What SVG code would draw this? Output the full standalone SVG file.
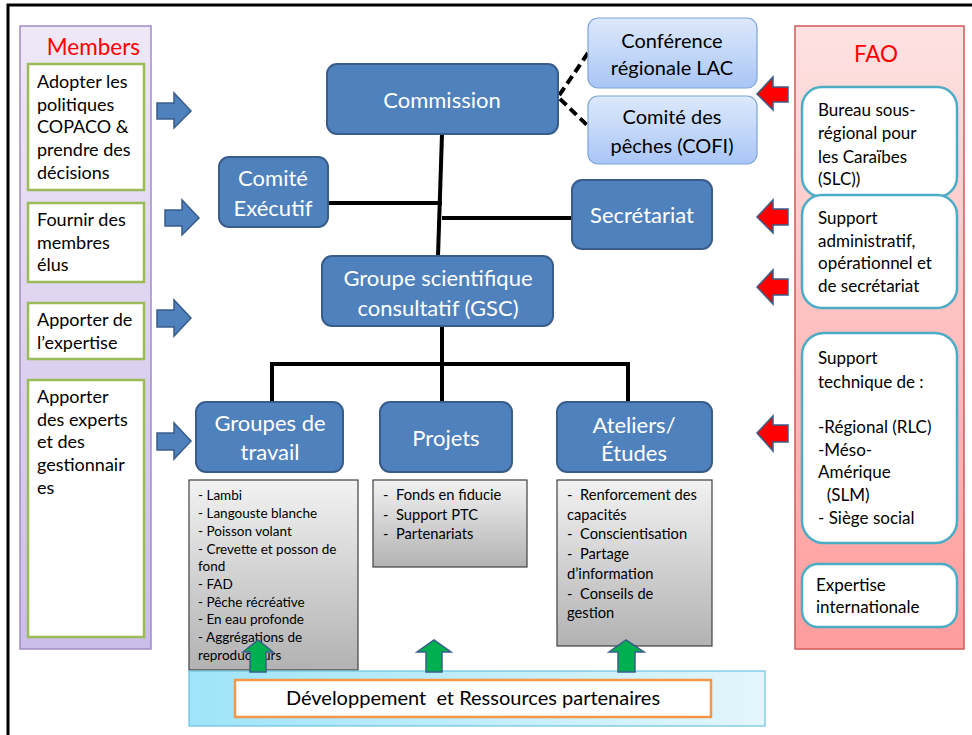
<svg xmlns="http://www.w3.org/2000/svg" width="972" height="735" viewBox="0 0 972 735">
<defs>
<linearGradient id="gMem" x1="0" y1="0" x2="0" y2="1"><stop offset="0" stop-color="#efe8f6"/><stop offset="1" stop-color="#cbbde9"/></linearGradient>
<linearGradient id="gFao" x1="0" y1="0" x2="0" y2="1"><stop offset="0" stop-color="#fde2e2"/><stop offset="1" stop-color="#ff9c9c"/></linearGradient>
<linearGradient id="gLight" x1="0" y1="0" x2="0" y2="1"><stop offset="0" stop-color="#dde9fb"/><stop offset="1" stop-color="#a9c6f6"/></linearGradient>
<linearGradient id="gGrey" x1="0" y1="0" x2="0" y2="1"><stop offset="0" stop-color="#f2f2f2"/><stop offset="1" stop-color="#b2b2b2"/></linearGradient>
<linearGradient id="gBand" x1="0" y1="0" x2="1" y2="0"><stop offset="0" stop-color="#9fe4f9"/><stop offset="1" stop-color="#e3f6fc"/></linearGradient>
</defs>
<style>
text{font-family:Lato,"Liberation Sans",sans-serif;}
.node rect{fill:#4f81bd;stroke:#385d8a;stroke-width:2;}
.node text{fill:#fff;font-size:22px;text-anchor:middle;}
.light rect{fill:url(#gLight);stroke:#7ea3d8;stroke-width:1.2;}
.light text{fill:#000;font-size:20px;text-anchor:middle;}
.mbox rect{fill:#fff;stroke:#9bbb59;stroke-width:2.5;}
.mbox text{fill:#000;font-size:18px;}
.fbox rect{fill:#fff;stroke:#4bacc6;stroke-width:2.5;}
.fbox text{fill:#000;font-size:17px;}
.list rect{fill:url(#gGrey);stroke:#404040;stroke-width:1.2;}
.list text{fill:#000;font-size:13.5px;}
.list2 text{font-size:14.7px;}
.barrow{fill:#4f81bd;stroke:#385d8a;stroke-width:1.5;}
.rarrow{fill:#ff0000;stroke:#385d8a;stroke-width:1.5;}
.garrow{fill:#00b050;stroke:#385d8a;stroke-width:1.5;}
.conn line,.conn polyline{stroke:#000;stroke-width:4;fill:none;}
.title{fill:#ff0000;font-size:22.5px;}
</style>

<g id="frame"><path d="M8 735 V5 H972" fill="none" stroke="#000" stroke-width="3"/></g>

<g id="members">
<rect x="20" y="26" width="131" height="623" fill="url(#gMem)" stroke="#a08cc8" stroke-width="1.5"/>
<text class="title" x="140" y="55" text-anchor="end">Members</text>
</g>
<g id="m1" class="mbox"><rect x="28" y="64" width="116" height="126"/>
<text x="37" y="88">Adopter les</text><text x="37" y="111">politiques</text><text x="37" y="133">COPACO &amp;</text><text x="37" y="156">prendre des</text><text x="37" y="179">décisions</text></g>
<g id="m2" class="mbox"><rect x="28" y="203" width="116" height="79"/>
<text x="37" y="226">Fournir des</text><text x="37" y="249">membres</text><text x="37" y="271">élus</text></g>
<g id="m3" class="mbox"><rect x="28" y="303" width="116" height="56"/>
<text x="37" y="326">Apporter de</text><text x="37" y="349">l’expertise</text></g>
<g id="m4" class="mbox"><rect x="28" y="380" width="116" height="257"/>
<text x="37" y="403">Apporter</text><text x="37" y="426">des experts</text><text x="37" y="448">et des</text><text x="37" y="471">gestionnair</text><text x="37" y="494">es</text></g>

<g id="fao">
<rect x="795" y="26" width="169" height="623" fill="url(#gFao)" stroke="#d05a5a" stroke-width="1.5"/>
<text class="title" x="876" y="62" text-anchor="middle">FAO</text>
</g>
<g id="f1" class="fbox"><rect x="802" y="87" width="155" height="110" rx="20"/>
<text x="818" y="116">Bureau sous-</text><text x="818" y="139">régional pour</text><text x="818" y="163">les Caraïbes</text><text x="818" y="185">(SLC))</text></g>
<g id="f2" class="fbox"><rect x="802" y="195" width="155" height="113" rx="20"/>
<text x="818" y="224">Support</text><text x="818" y="247">administratif,</text><text x="818" y="269">opérationnel et</text><text x="818" y="292">de secrétariat</text></g>
<g id="f3" class="fbox"><rect x="802" y="333" width="155" height="210" rx="22"/>
<text x="818" y="364">Support</text><text x="818" y="388">technique de :</text><text x="818" y="433">-Régional (RLC)</text><text x="818" y="456">-Méso-</text><text x="818" y="478">Amérique</text><text x="818" y="501" xml:space="preserve">  (SLM)</text><text x="818" y="524">- Siège social</text></g>
<g id="f4" class="fbox"><rect x="802" y="564" width="155" height="63" rx="16"/>
<text x="816" y="591">Expertise</text><text x="816" y="613">internationale</text></g>

<g id="connectors" class="conn">
<line x1="442" y1="134" x2="438" y2="256" stroke-width="3"/>
<line x1="328" y1="203" x2="442" y2="203"/>
<line x1="442" y1="218" x2="572" y2="218"/>
<line x1="442" y1="326" x2="442" y2="402"/>
<polyline points="272,402 272,364 628,364 628,402"/>
<polyline points="588,53 558,97 588,126" stroke-width="3" stroke-dasharray="9 5"/>
</g>

<g id="commission" class="node"><rect x="327" y="64" width="231" height="70" rx="10"/><text x="442" y="108">Commission</text></g>
<g id="executif" class="node"><rect x="219" y="157" width="109" height="70" rx="10"/><text x="273" y="186">Comité</text><text x="273" y="216">Exécutif</text></g>
<g id="gsc" class="node"><rect x="322" y="256" width="231" height="70" rx="10"/><text x="438" y="286">Groupe scientifique</text><text x="438" y="316">consultatif (GSC)</text></g>
<g id="secretariat" class="node"><rect x="572" y="180" width="140" height="69" rx="10"/><text x="642" y="223">Secrétariat</text></g>
<g id="groupes" class="node"><rect x="196" y="402" width="147" height="70" rx="10"/><text x="270" y="431">Groupes de</text><text x="270" y="460">travail</text></g>
<g id="projets" class="node"><rect x="380" y="402" width="132" height="70" rx="10"/><text x="446" y="446">Projets</text></g>
<g id="ateliers" class="node"><rect x="557" y="402" width="155" height="70" rx="10"/><text x="634" y="433">Ateliers/</text><text x="634" y="461">Études</text></g>

<g id="conference" class="light"><rect x="588" y="18" width="169" height="70" rx="10"/><text x="672" y="48">Conférence</text><text x="672" y="75">régionale LAC</text></g>
<g id="cofi" class="light"><rect x="588" y="96" width="169" height="68" rx="10"/><text x="672" y="124">Comité des</text><text x="672" y="153">pêches (COFI)</text></g>

<g id="listGroupes" class="list"><rect x="189" y="480" width="169" height="190"/>
<text x="198" y="500">- Lambi</text><text x="198" y="518">- Langouste blanche</text><text x="198" y="536">- Poisson volant</text><text x="198" y="554">- Crevette et posson de</text><text x="198" y="571">fond</text><text x="198" y="589">- FAD</text><text x="198" y="607">- Pêche récréative</text><text x="198" y="624">- En eau profonde</text><text x="198" y="642">- Aggrégations de</text><text x="198" y="660">reproducteurs</text></g>
<g id="listProjets" class="list list2"><rect x="373" y="480" width="154" height="87"/>
<text x="383" y="500" xml:space="preserve">-  Fonds en fiducie</text><text x="383" y="520" xml:space="preserve">-  Support PTC</text><text x="383" y="539" xml:space="preserve">-  Partenariats</text></g>
<g id="listAteliers" class="list list2"><rect x="557" y="480" width="155" height="166"/>
<text x="567" y="500" xml:space="preserve">-  Renforcement des</text><text x="567" y="520">capacités</text><text x="567" y="539" xml:space="preserve">-  Conscientisation</text><text x="567" y="559" xml:space="preserve">-  Partage</text><text x="567" y="579">d’information</text><text x="567" y="599" xml:space="preserve">-  Conseils de</text><text x="567" y="618">gestion</text></g>

<g id="band">
<rect x="189" y="671" width="576" height="55" fill="url(#gBand)" stroke="#6cc4e0" stroke-width="1.2"/>
</g>
<g id="ressources"><rect x="235" y="680" width="476" height="37" fill="#fff" stroke="#f79646" stroke-width="2.5"/>
<text x="473" y="705" font-size="20" text-anchor="middle" xml:space="preserve">Développement  et Ressources partenaires</text></g>

<g id="arrows">
<path class="barrow" d="M157 103 H174 V93 L191 111 L174 128 V119 H157 Z"/>
<path class="barrow" d="M165 210 H182 V200 L199 218 L182 235 V226 H165 Z"/>
<path class="barrow" d="M157 310 H174 V300 L191 318 L174 336 V327 H157 Z"/>
<path class="barrow" d="M157 433 H174 V423 L191 441 L174 459 V450 H157 Z"/>
<path class="rarrow" d="M788 87 H773 V77 L757 94 L773 110 V102 H788 Z"/>
<path class="rarrow" d="M788 209 H773 V200 L757 217 L773 233 V225 H788 Z"/>
<path class="rarrow" d="M788 279 H773 V270 L757 287 L773 304 V295 H788 Z"/>
<path class="rarrow" d="M788 425 H773 V416 L757 433 L773 451 V442 H788 Z"/>
<path class="garrow" d="M250 672 V652 H243 L258 640 L273 652 H266 V672 Z"/>
<path class="garrow" d="M426 672 V652 H417 L434 640 L451 652 H442 V672 Z"/>
<path class="garrow" d="M618 672 V652 H609 L626 640 L644 652 H635 V672 Z"/>
</g>
</svg>
